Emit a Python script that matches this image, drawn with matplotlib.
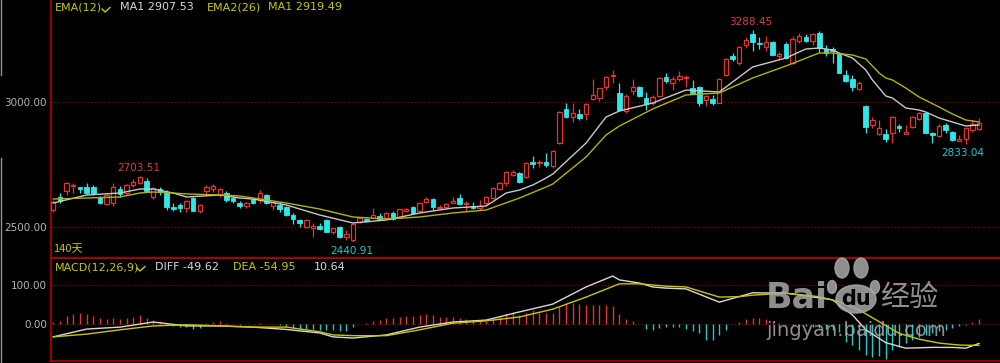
import matplotlib
matplotlib.use("Agg")
import matplotlib.pyplot as plt
from matplotlib.patches import Ellipse

# ---- daily candles (140 days) ----
opens = [2568, 2620, 2644, 2666, 2660, 2660, 2660, 2620, 2592, 2596,
         2652, 2636, 2668, 2676, 2684, 2620, 2652, 2640, 2580, 2588,
         2576, 2616, 2564, 2644, 2652, 2628, 2636, 2616, 2596, 2584,
         2612, 2608, 2628, 2584, 2588, 2580, 2548, 2528, 2500, 2498,
         2504, 2528, 2480, 2500, 2460, 2448, 2520, 2532, 2536, 2544,
         2536, 2556, 2536, 2564, 2580, 2564, 2600, 2612, 2576, 2580,
         2596, 2616, 2592, 2584, 2578, 2596, 2616, 2652, 2676, 2708,
         2716, 2700, 2760, 2756, 2760, 2744, 2836, 2972, 2940, 2952,
         2952, 3012, 3016, 3060, 3104, 3036, 2964, 3044, 3060, 3016,
         2996, 3024, 3100, 3076, 3092, 3096, 3056, 3060, 3008, 3012,
         2996, 3108, 3184, 3156, 3228, 3272, 3236, 3220, 3240, 3184,
         3232, 3156, 3244, 3260, 3244, 3276, 3212, 3212, 3192, 3108,
         3092, 3052, 2984, 2908, 2872, 2872, 2876, 2904, 2872, 2900,
         2932, 2956, 2876, 2864, 2908, 2880, 2844, 2852, 2888, 2892]
highs = [2608, 2636, 2680, 2676, 2662, 2676, 2668, 2625, 2632, 2676,
         2664, 2672, 2692, 2703.51, 2696, 2660, 2660, 2648, 2596, 2596,
         2608, 2620, 2592, 2668, 2672, 2656, 2644, 2624, 2604, 2600,
         2616, 2648, 2632, 2600, 2600, 2584, 2556, 2532, 2532, 2516,
         2516, 2532, 2496, 2504, 2488, 2516, 2540, 2536, 2576, 2556,
         2560, 2564, 2572, 2576, 2584, 2600, 2620, 2616, 2588, 2596,
         2620, 2632, 2604, 2600, 2608, 2624, 2660, 2680, 2724, 2728,
         2720, 2760, 2784, 2768, 2796, 2808, 2964, 2996, 2996, 2972,
         2996, 3092, 3056, 3104, 3128, 3076, 3032, 3092, 3064, 3040,
         3028, 3100, 3116, 3104, 3124, 3108, 3088, 3064, 3028, 3028,
         3096, 3176, 3196, 3224, 3260, 3288.45, 3260, 3264, 3244, 3200,
         3240, 3264, 3275, 3272, 3276, 3284, 3228, 3220, 3196, 3128,
         3108, 3084, 2988, 2940, 2928, 2892, 2944, 2912, 2908, 2944,
         2960, 2960, 2880, 2912, 2916, 2884, 2868, 2900, 2928, 2936]
lows = [2560, 2596, 2628, 2636, 2636, 2632, 2628, 2592, 2588, 2584,
        2620, 2628, 2660, 2672, 2640, 2612, 2628, 2568, 2564, 2560,
        2560, 2564, 2556, 2628, 2640, 2620, 2600, 2596, 2576, 2576,
        2592, 2596, 2592, 2568, 2560, 2544, 2512, 2500, 2496, 2460,
        2488, 2480, 2472, 2456, 2448, 2440.91, 2516, 2520, 2536, 2532,
        2532, 2528, 2536, 2560, 2552, 2560, 2596, 2568, 2572, 2576,
        2596, 2588, 2560, 2572, 2568, 2588, 2612, 2648, 2664, 2704,
        2676, 2696, 2736, 2740, 2740, 2736, 2832, 2936, 2920, 2928,
        2928, 3008, 3004, 3048, 3076, 2964, 2956, 3028, 3020, 2968,
        2988, 3020, 3076, 3048, 3084, 3060, 3036, 2984, 2984, 2988,
        2996, 3104, 3164, 3148, 3216, 3204, 3212, 3204, 3188, 3168,
        3172, 3152, 3236, 3240, 3228, 3200, 3184, 3156, 3116, 3080,
        3044, 3048, 2876, 2896, 2868, 2840, 2836, 2880, 2872, 2896,
        2928, 2876, 2836, 2860, 2876, 2844, 2844, 2833.04, 2880, 2888]
closes = [2600, 2604, 2676, 2670, 2652, 2636, 2636, 2596, 2628, 2660,
          2632, 2668, 2680, 2700, 2644, 2656, 2640, 2580, 2572, 2576,
          2604, 2564, 2588, 2660, 2664, 2652, 2608, 2604, 2584, 2596,
          2596, 2636, 2596, 2600, 2572, 2548, 2532, 2516, 2528, 2504,
          2492, 2480, 2496, 2460, 2472, 2512, 2536, 2524, 2548, 2532,
          2556, 2532, 2572, 2572, 2556, 2596, 2612, 2580, 2580, 2592,
          2604, 2592, 2596, 2576, 2584, 2620, 2656, 2676, 2720, 2720,
          2680, 2756, 2752, 2762, 2748, 2804, 2960, 2940, 2956, 2936,
          2992, 3028, 3056, 3100, 3108, 2968, 3024, 3060, 3024, 2992,
          3020, 3096, 3084, 3092, 3104, 3100, 3036, 2996, 3024, 2996,
          3092, 3172, 3172, 3220, 3248, 3240, 3232, 3240, 3188, 3192,
          3176, 3252, 3264, 3244, 3272, 3216, 3196, 3204, 3116, 3084,
          3060, 3076, 2900, 2928, 2896, 2852, 2940, 2896, 2880, 2940,
          2956, 2876, 2868, 2904, 2888, 2848, 2852, 2896, 2912, 2916]

# ---- EMA lines (day index -> value) ----
ema12_days = [0, 5, 10, 13, 15, 18, 20, 25, 28, 30, 35, 40, 45, 50, 55, 60, 65, 68,
              70, 72, 74, 75, 80, 83, 85, 90, 95, 100, 105, 110, 113, 115, 117, 118,
              120, 122, 123, 124, 125, 126, 128, 130, 131, 133, 135, 137, 139]
ema12 = [2596, 2628, 2636, 2652, 2652, 2636, 2620, 2628, 2616, 2612, 2588, 2548, 2516,
         2528, 2556, 2576, 2584, 2636, 2648, 2668, 2696, 2712, 2836, 2940, 2964, 2996,
         3048, 3040, 3140, 3176, 3212, 3216, 3208, 3196, 3176, 3128, 3088, 3056, 3024,
         3016, 2976, 2968, 2960, 2936, 2920, 2904, 2908]
ema26_days = [0, 5, 10, 13, 15, 18, 20, 25, 28, 30, 35, 40, 45, 50, 55, 60, 65, 70,
              74, 75, 80, 83, 85, 90, 95, 100, 105, 110, 115, 117, 120, 122, 124, 125,
              126, 128, 130, 133, 135, 137, 139]
ema26 = [2612, 2616, 2620, 2636, 2640, 2636, 2632, 2628, 2624, 2616, 2596, 2572, 2540,
         2532, 2540, 2556, 2568, 2616, 2660, 2672, 2780, 2868, 2904, 2972, 3028, 3036,
         3096, 3144, 3196, 3196, 3188, 3172, 3116, 3096, 3088, 3056, 3020, 2980, 2952,
         2928, 2920]

# ---- MACD(12,26,9) ----
diff_days = [0, 5, 10, 15, 20, 25, 30, 35, 40, 42, 45, 50, 55, 60, 65, 70, 75, 80, 84,
             85, 88, 90, 92, 95, 100, 105, 110, 113, 117, 120, 122, 125, 128, 132, 135,
             137, 139]
diff = [-33, -13, -8, 5, -5, -5, -8, -14, -23, -33, -36, -28, -8, 5, 10, 31, 51, 95, 123,
        113, 105, 95, 92, 90, 56, 80, 79, 72, 62, 23, -15, -48, -62, -60, -60, -62, -50]
dea_days = [0, 5, 10, 15, 20, 25, 30, 35, 40, 42, 45, 50, 55, 60, 65, 70, 75, 80, 85,
            88, 90, 92, 95, 100, 103, 105, 110, 115, 118, 121, 124, 127, 130, 133, 136,
            139]
dea = [-33, -26, -15, -5, -2, -5, -8, -8, -20, -28, -30, -30, -15, 2, 8, 18, 38, 69, 103,
       103, 100, 97, 95, 69, 70, 74, 79, 70, 57, 36, 6, -24, -39, -49, -54, -55]
macd_bar = [6, 8.5, 20, 26, 29, 25, 20, 14.5, 12, 14.5,
            12, 14.5, 19, 23, 14.5, 10, 8.5, 2, -5, -8.5,
            -8.5, -14, -11, 3, 6, 8.5, 3, 0.5, -2, -1,
            1, 2, 1, 0.5, -3, -5, -11, -14, -14, -14,
            -15, -15, -16, -19, -18, -8.5, 0.5, 3, 8.5, 10,
            14.5, 14.5, 19, 20, 20, 23, 26, 23, 19, 19,
            18, 14.5, 12, 10, 8.5, 8.5, 12, 19, 26, 30,
            23, 29, 36, 29, 27, 29, 43, 53, 55, 51,
            49, 49, 49, 49, 46, 26, 12, 8.5, 0.5, -14,
            -15, -11, -8.5, -8.5, -8.5, -14, -17, -24, -40, -41,
            -28, -15, 0.5, 6, 12, 14.5, 14.5, 12, 6, 3,
            0.5, -3, -5, -6, -8, -10, -12, -15, -20, -45,
            -54, -66, -79, -84, -82, -91, -66, -58, -50, -41,
            -34, -28, -22, -17, -15, -11, -5, -2, 6, 12]

RED = "#e8322f"
CYAN = "#2ee8e8"
WHITE = "#c8c8c8"
YELLOW = "#c8c800"
BORDER = "#b40000"
GRID = "#9a0000"
TICKTXT = "#b4b4b4"

fig = plt.figure(figsize=(10, 3.63), dpi=100, facecolor="black")
ax = fig.add_axes([0.051, 1 - 258 / 363, 0.949, 258 / 363])
ax2 = fig.add_axes([0.051, 1 - 361 / 363, 0.949, 103 / 363])

for a in (ax, ax2):
    a.set_facecolor("black")
    a.set_xlim(-0.345, 142.15)
    a.set_xticks([])
    for s in ("top", "right"):
        a.spines[s].set_visible(False)
    for s in ("left", "bottom"):
        a.spines[s].set_color(BORDER)
        a.spines[s].set_linewidth(1.2)
    a.tick_params(axis="y", length=0, colors=TICKTXT, labelsize=7.5, pad=3)
    a.grid(axis="y", color=GRID, linestyle=(0, (1, 2)), linewidth=0.8)
    a.set_axisbelow(True)
ax2.spines["top"].set_visible(True)
ax2.spines["top"].set_color(BORDER)

ax.set_ylim(2376, 3408)
ax.set_yticks([2500, 3000])
ax.set_yticklabels(["2500.00", "3000.00"])
ax2.set_ylim(-94.9, 169.2)
ax2.set_yticks([0, 100])
ax2.set_yticklabels(["0.00", "100.00"])

# candles
days = list(range(len(closes)))
up = [i for i in days if closes[i] >= opens[i]]
dn = [i for i in days if closes[i] < opens[i]]
ax.vlines(up, [lows[i] for i in up], [highs[i] for i in up], color=RED, lw=0.9, zorder=2)
ax.vlines(dn, [lows[i] for i in dn], [highs[i] for i in dn], color=CYAN, lw=0.9, zorder=2)
ax.bar(up, [max(closes[i] - opens[i], 1) for i in up], width=0.66,
       bottom=[opens[i] for i in up], facecolor="black", edgecolor=RED, linewidth=0.9, zorder=3)
ax.bar(dn, [max(opens[i] - closes[i], 1) for i in dn], width=0.7,
       bottom=[closes[i] for i in dn], facecolor=CYAN, edgecolor=CYAN, linewidth=0.6, zorder=3)

ax.plot(ema12_days, ema12, color=WHITE, lw=1, zorder=4)
ax.plot(ema26_days, ema26, color="#b4b400", lw=1, zorder=4)

# high / low marks
ax.annotate("2703.51", (13, 2703.51), xytext=(-1, 2), textcoords="offset points",
            ha="center", va="bottom", color="#e03c3c", fontsize=7.5)
ax.annotate("3288.45", (105, 3288.45), xytext=(-1, 2), textcoords="offset points",
            ha="center", va="bottom", color="#e03c3c", fontsize=7.5)
ax.annotate("2440.91", (45, 2440.91), xytext=(-1, -3), textcoords="offset points",
            ha="center", va="top", color="#20c8c8", fontsize=7.5)
ax.annotate("2833.04", (137, 2833.04), xytext=(-2, -3), textcoords="offset points",
            ha="center", va="top", color="#20c8c8", fontsize=7.5)

# MACD panel
pos = [i for i in days if macd_bar[i] > 0]
neg = [i for i in days if macd_bar[i] < 0]
ax2.vlines(pos, 0, [macd_bar[i] for i in pos], color=RED, lw=1.0, zorder=2)
ax2.vlines(neg, 0, [macd_bar[i] for i in neg], color="#10d0d0", lw=1.0, zorder=2)
ax2.plot(diff_days, diff, color="#d8d8d8", lw=1, zorder=3)
ax2.plot(dea_days, dea, color=YELLOW, lw=1, zorder=3)

# overlay in pixel space for the header texts and the watermark
ov = fig.add_axes([0, 0, 1, 1])
ov.set_xlim(0, 1000)
ov.set_ylim(363, 0)
ov.axis("off")
ov.patch.set_alpha(0)

ov.text(55, 7, "EMA(12)", color=YELLOW, fontsize=8, va="center")
ov.plot([102, 105, 110], [9, 12, 7.5], color=YELLOW, lw=1)
ov.text(120, 7, "MA1 2907.53", color="#d8d8d8", fontsize=8, va="center")
ov.text(207, 7, "EMA2(26)", color=YELLOW, fontsize=8, va="center")
ov.text(268, 7, "MA1 2919.49", color=YELLOW, fontsize=8, va="center")
ov.text(53, 249, "140天", color=YELLOW, fontsize=8, va="center",
        family=["Noto Sans CJK SC", "DejaVu Sans"])

ov.text(55, 267, "MACD(12,26,9)", color=YELLOW, fontsize=8, va="center")
ov.plot([137, 140, 145], [268, 271, 266.5], color=YELLOW, lw=1)
ov.text(155, 267, "DIFF -49.62", color="#d8d8d8", fontsize=8, va="center")
ov.text(233, 267, "DEA -54.95", color=YELLOW, fontsize=8, va="center")
ov.text(314, 267, "10.64", color="#d8d8d8", fontsize=8, va="center")

# window edge at the far left
ov.plot([1, 1], [0, 75], color="#909090", lw=1)
ov.plot([1, 1], [158, 363], color="#909090", lw=1)

# watermark
WM = "#a8a8a8"
ov.text(766, 298, "Bai", color=WM, fontsize=25, fontweight="bold", va="center", alpha=0.85)
for cx, cy, w, h in [(842, 268, 14, 20), (861, 268, 14, 20), (832, 287, 9, 13), (875, 287, 9, 13)]:
    ov.add_patch(Ellipse((cx, cy), w, h, color=WM, alpha=0.85))
ov.add_patch(Ellipse((856, 299), 40, 28, color=WM, alpha=0.85))
ov.text(856, 299, "du", color="black", fontsize=15, fontweight="bold", ha="center", va="center")
ov.text(880, 298, "经验", color=WM, fontsize=21, va="center", alpha=0.85,
        family=["Noto Sans CJK SC", "DejaVu Sans"])
ov.text(766, 330, "jingyan.baidu.com", color=WM, fontsize=14, va="center", alpha=0.85)

fig.savefig("out.png", dpi=100, facecolor="black")
